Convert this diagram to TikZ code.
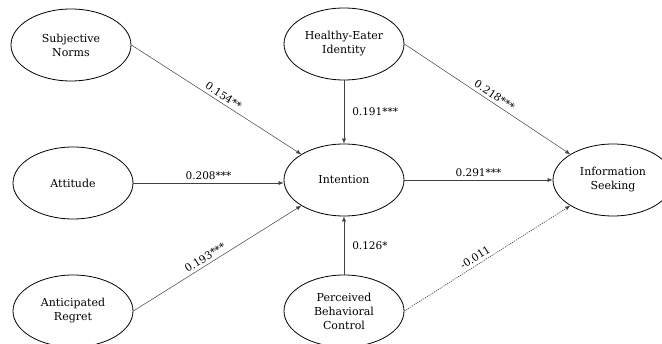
\documentclass[tikz,border=0pt]{standalone}
\usepackage{fontspec}
\setmainfont{DejaVu Serif}
\usetikzlibrary{shapes.geometric,arrows.meta}
\begin{document}
\begin{tikzpicture}[x=1pt,y=-1pt,
  construct/.style={ellipse,draw=black,line width=0.8pt,minimum width=120pt,minimum height=72pt,align=center,font=\fontsize{11}{14}\selectfont,inner sep=0pt},
  path/.style={draw=black!75,line width=0.5pt,-{Latex[length=5pt,width=4pt]}},
  coef/.style={font=\fontsize{10.5}{12}\selectfont,inner sep=3pt}]
\useasboundingbox (0,0) rectangle (662,344);
\node[construct] (sn) at (71,45) {Subjective\\Norms};
\node[construct] (att) at (73,183) {Attitude};
\node[construct] (ar) at (73,311) {Anticipated\\Regret};
\node[construct] (hei) at (344,44) {Healthy-Eater\\Identity};
\node[construct] (int) at (344,180) {Intention};
\node[construct] (pbc) at (344,311) {Perceived\\Behavioral\\Control};
\node[construct] (is) at (613,180) {Information\\Seeking};
\draw[path] (sn.east) -- node[coef,pos=0.52,sloped,above] {0.154**} (int.north west);
\draw[path] (att.east) -- node[coef,midway,above] {0.208***} (att.east -| int.west);
\draw[path] (ar.east) -- node[coef,pos=0.45,sloped,above] {0.193***} (int.south west);
\draw[path] (hei.south) -- node[coef,midway,right,xshift=5pt] {0.191***} (int.north);
\draw[path] (pbc.north) -- node[coef,midway,right,xshift=5pt] {0.126*} (int.south);
\draw[path] (hei.east) -- node[coef,pos=0.52,sloped,above] {0.218***} (is.north west);
\draw[path] (int.east) -- node[coef,midway,above] {0.291***} (is.west);
\draw[path,line width=0.6pt,dash pattern=on 1.2pt off 1pt] (pbc.east) -- node[coef,pos=0.45,sloped,above] {-0.011} (is.south west);
\end{tikzpicture}
\end{document}
